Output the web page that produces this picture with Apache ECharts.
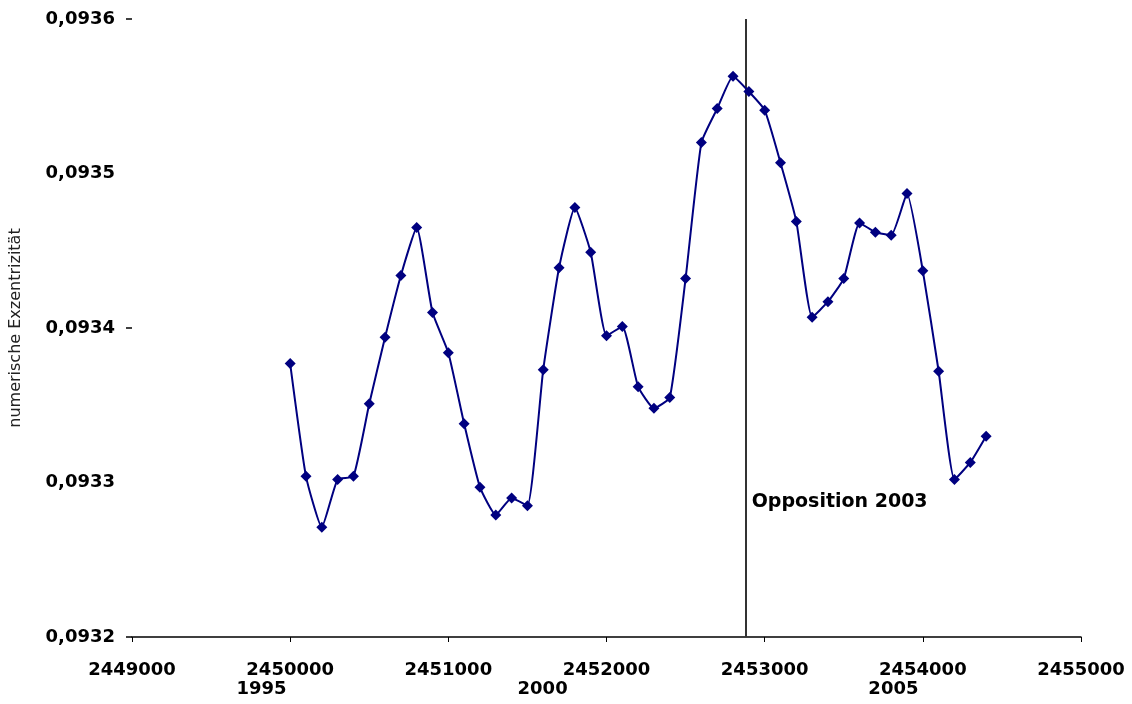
<!DOCTYPE html>
<html>
<head>
<meta charset="utf-8">
<script src="https://cdn.jsdelivr.net/npm/echarts@6/dist/echarts.min.js"></script>
<style>
  html, body { margin: 0; padding: 0; background: #fff; }
  #chart { width: 1132px; height: 704px; }
</style>
</head>
<body>
<div id="chart"></div>
<script>
// Julian dates of the samples (every 100 days)
const julianDays = [
  2450000, 2450100, 2450200, 2450300, 2450400, 2450500, 2450600, 2450700, 2450800, 2450900,
  2451000, 2451100, 2451200, 2451300, 2451400, 2451500, 2451600, 2451700, 2451800, 2451900,
  2452000, 2452100, 2452200, 2452300, 2452400, 2452500, 2452600, 2452700, 2452800, 2452900,
  2453000, 2453100, 2453200, 2453300, 2453400, 2453500, 2453600, 2453700, 2453800, 2453900,
  2454000, 2454100, 2454200, 2454300, 2454400
];

// Numerical eccentricity of the Mars orbit
const eccentricity = [
  0.093377, 0.093304, 0.093271, 0.093302, 0.093304, 0.093351, 0.093394, 0.093434, 0.093465, 0.093410,
  0.093384, 0.093338, 0.093297, 0.093279, 0.093290, 0.093285, 0.093373, 0.093439, 0.093478, 0.093449,
  0.093395, 0.093401, 0.093362, 0.093348, 0.093355, 0.093432, 0.093520, 0.093542, 0.093563, 0.093553,
  0.093541, 0.093507, 0.093469, 0.093407, 0.093417, 0.093432, 0.093468, 0.093462, 0.093460, 0.093487,
  0.093437, 0.093372, 0.093302, 0.093313, 0.093330
];

// Axis ranges: [min, max, label interval]
const xRange = [2449000, 2455000, 1000];
const yRange = [0.0932, 0.0936, 0.0001];
const yMajorInterval = 0.0002;

// Reference lines and annotations
const oppositionJD = 2452880;
const oppositionText = 'Opposition 2003';
const highlightLevels = [0.0934, 0.0936];
const yearTexts = ['1995', '2000', '2005'];
const yearAnchorJD = [2449819, 2451596, 2453814];
const yTitle = 'numerische Exzentrizität';

const boldFont = 'DejaVu Sans';

const chart = echarts.init(document.getElementById('chart'), null, { renderer: 'canvas' });

const points = julianDays.map((d, i) => [d, eccentricity[i]]);

chart.setOption({
  animation: false,
  backgroundColor: '#ffffff',
  grid: { left: 129, right: 51, top: 19, bottom: 67, containLabel: false },
  xAxis: {
    type: 'value',
    min: xRange[0], max: xRange[1], interval: xRange[2],
    axisLine: { show: true, lineStyle: { color: '#000', width: 1.5 } },
    axisTick: { show: true, inside: false, length: 5, lineStyle: { color: '#000', width: 1 } },
    splitLine: { show: false },
    axisLabel: {
      margin: 24,
      color: '#000',
      fontFamily: boldFont,
      fontWeight: 'bold',
      fontSize: 18,
      formatter: v => String(v)
    }
  },
  yAxis: [{
    type: 'value',
    min: yRange[0], max: yRange[1], interval: yRange[2],
    name: yTitle,
    nameLocation: 'middle',
    nameGap: 108,
    nameRotate: 90,
    nameTextStyle: { color: '#222', fontFamily: boldFont, fontSize: 16 },
    axisLine: { show: false },
    axisTick: { show: false },
    splitLine: { show: false },
    axisLabel: {
      margin: 17,
      color: '#000',
      fontFamily: boldFont,
      fontWeight: 'bold',
      fontSize: 18,
      formatter: v => v.toFixed(4).replace('.', ',')
    }
  }, {
    // major ticks only (every 0.0002)
    type: 'value',
    position: 'left',
    min: yRange[0], max: yRange[1], interval: yMajorInterval,
    axisLine: { show: false },
    axisTick: { show: true, length: 6, lineStyle: { color: '#000', width: 1.5 } },
    axisLabel: { show: false },
    splitLine: { show: false }
  }],
  series: [{
    type: 'line',
    data: points,
    smooth: 0.15,
    symbol: 'diamond',
    symbolSize: 11,
    showSymbol: true,
    lineStyle: { color: '#000080', width: 2 },
    itemStyle: { color: '#000080' },
    z: 5,
    markLine: {
      silent: true,
      symbol: 'none',
      label: { show: false },
      animation: false,
      z: 1,
      data: [
        { yAxis: highlightLevels[0], lineStyle: { color: '#000', width: 1.5, type: 'solid' } },
        { yAxis: highlightLevels[1], lineStyle: { color: '#8c8c8c', width: 2, type: 'solid' } },
        { xAxis: oppositionJD, lineStyle: { color: '#333', width: 2, type: 'solid' } }
      ]
    }
  }]
});

// Text annotations: opposition label and calendar years below the axis
const textStyleBold = { fill: '#000', font: 'bold 18px "DejaVu Sans"' };
const oppPx = chart.convertToPixel({ gridIndex: 0 }, [oppositionJD, 0.09330]);
const axisY = chart.convertToPixel({ gridIndex: 0 }, [xRange[0], yRange[0]])[1];

const graphics = [{
  type: 'text',
  left: oppPx[0] + 6,
  top: oppPx[1] + 10,
  style: Object.assign({ text: oppositionText }, { fill: '#000', font: 'bold 19px "DejaVu Sans"' })
}];
yearTexts.forEach((t, i) => {
  const px = chart.convertToPixel({ gridIndex: 0 }, [yearAnchorJD[i], yRange[0]]);
  graphics.push({
    type: 'text',
    x: px[0],
    y: axisY + 52,
    style: Object.assign({ text: t, align: 'center', verticalAlign: 'middle' }, textStyleBold)
  });
});
chart.setOption({ graphic: graphics });
</script>
</body>
</html>
